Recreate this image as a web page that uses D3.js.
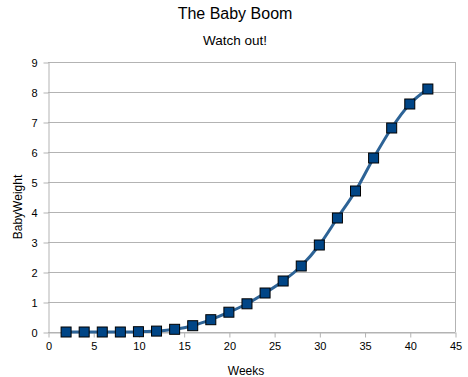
<!DOCTYPE html>
<html>
<head>
<meta charset="utf-8">
<script src="https://cdn.jsdelivr.net/npm/d3@7"></script>
<style>
  body { margin: 0; background: #fff; }
  text { font-family: "Liberation Sans", Arial, sans-serif; }
</style>
</head>
<body>
<svg id="chart" width="468" height="377"></svg>
<script>
// chart data
let weeks = [2, 4, 6, 8, 10, 12, 14, 16, 18, 20, 22, 24, 26, 28, 30, 32, 34, 36, 38, 40, 42];
let babyWeight = [0, 0, 0, 0, 0.01, 0.03, 0.09, 0.21, 0.41, 0.66, 0.94, 1.3, 1.7, 2.2, 2.9, 3.8, 4.7, 5.8, 6.8, 7.6, 8.1];
let xTicks = [0, 5, 10, 15, 20, 25, 30, 35, 40, 45];
let yTicks = [0, 1, 2, 3, 4, 5, 6, 7, 8, 9];

let points = weeks.map((w, i) => ({ x: w, y: babyWeight[i] }));

const margins = { top: 62, left: 48, right: 13, bottom: 45 };
const width = 468, height = 377;

const xScale = d3.scaleLinear().domain([0, 45]).range([margins.left, width - margins.right]);
const yScale = d3.scaleLinear().domain([0, 9]).range([height - margins.bottom, margins.top]);

const svg = d3.select('#chart');

// grid lines
svg.append('g')
   .selectAll('line')
   .data(yTicks)
   .enter()
   .append('line')
   .attr('x1', xScale(0))
   .attr('x2', xScale(45))
   .attr('y1', d => yScale(d) + 0.5)
   .attr('y2', d => yScale(d) + 0.5)
   .attr('stroke', '#b3b3b3');

// right border
svg.append('line')
   .attr('x1', xScale(45) + 0.5).attr('x2', xScale(45) + 0.5)
   .attr('y1', yScale(9)).attr('y2', yScale(0))
   .attr('stroke', '#b3b3b3');

// axes
const xAxis = svg.append('g')
   .attr('transform', `translate(0.5, ${yScale(0) + 0.5})`)
   .call(d3.axisBottom(xScale).tickValues(xTicks).tickSize(5).tickSizeOuter(0).tickPadding(5));
const yAxis = svg.append('g')
   .attr('transform', `translate(${xScale(0) + 0.5}, 0.5)`)
   .call(d3.axisLeft(yScale).tickValues(yTicks).tickSize(5).tickSizeOuter(0).tickPadding(6));

[xAxis, yAxis].forEach(ax => {
  ax.select('.domain').attr('stroke', '#b3b3b3');
  ax.selectAll('.tick line').attr('stroke', '#b3b3b3');
  ax.selectAll('.tick text')
    .attr('fill', '#000')
    .style('font-size', '11px')
    .style('font-family', '"Liberation Sans", Arial, sans-serif');
});

// line
const line = d3.line()
   .x(d => xScale(d.x))
   .y(d => yScale(d.y))
   .curve(d3.curveMonotoneX);

svg.append('path')
   .datum(points)
   .attr('d', line)
   .attr('fill', 'none')
   .attr('stroke', '#2d6396')
   .attr('stroke-width', 3);

// markers
svg.append('g')
   .selectAll('rect')
   .data(points)
   .enter()
   .append('rect')
   .attr('x', d => xScale(d.x) - 5)
   .attr('y', d => yScale(d.y) - 5)
   .attr('width', 10)
   .attr('height', 10)
   .attr('fill', '#004586')
   .attr('stroke', '#000')
   .attr('stroke-width', 1);

// titles
svg.append('text')
   .attr('x', 235).attr('y', 19)
   .attr('text-anchor', 'middle')
   .style('font-size', '16px')
   .text('The Baby Boom');

svg.append('text')
   .attr('x', 235).attr('y', 45)
   .attr('text-anchor', 'middle')
   .style('font-size', '13.5px')
   .text('Watch out!');

svg.append('text')
   .attr('x', 246).attr('y', 375)
   .attr('text-anchor', 'middle')
   .style('font-size', '12px')
   .text('Weeks');

svg.append('text')
   .attr('transform', 'translate(22, 207) rotate(-90)')
   .attr('text-anchor', 'middle')
   .style('font-size', '12px')
   .text('BabyWeight');
</script>
</body>
</html>
